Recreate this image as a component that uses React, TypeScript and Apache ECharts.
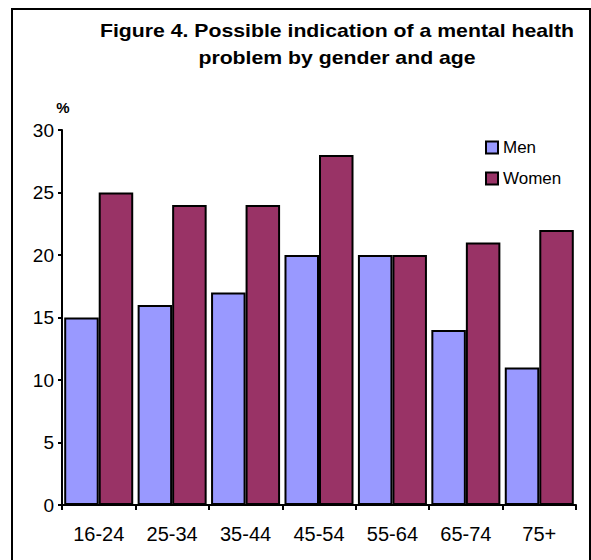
import React, { useEffect, useRef } from "react";
import * as echarts from "echarts";

const categories = ["16-24", "25-34", "35-44", "45-54", "55-64", "65-74", "75+"];
const menValues = [15, 16, 17, 20, 20, 14, 11];
const womenValues = [25, 24, 24, 28, 20, 21, 22];
const titleLines = ["Figure 4. Possible indication of a mental health", "problem by gender and age"];

const FONT = "'Liberation Sans', Arial, Helvetica, sans-serif";

export default function App() {
  const ref = useRef<HTMLDivElement>(null);
  useEffect(() => {
    if (!ref.current) return;
    const chart = echarts.init(ref.current, null, { renderer: "svg" });
    const titleStyle = {
      fontFamily: FONT,
      fontSize: 18,
      fontWeight: "bold",
      fill: "#000",
      textAlign: "center",
      textVerticalAlign: "middle",
    };
    chart.setOption({
      animation: false,
      backgroundColor: "#ffffff",
      textStyle: { fontFamily: FONT },
      grid: { left: 62, right: 15, top: 130, bottom: 55, containLabel: false },
      graphic: [
        {
          type: "rect",
          shape: { x: 12, y: 9, width: 578, height: 600 },
          style: { fill: "none", stroke: "#000", lineWidth: 2 },
          silent: true,
        },
        {
          type: "text",
          x: 337,
          y: 31,
          scaleX: 1.18,
          style: { ...titleStyle, text: titleLines[0] },
        },
        {
          type: "text",
          x: 337,
          y: 58,
          scaleX: 1.18,
          style: { ...titleStyle, text: titleLines[1] },
        },
        {
          type: "text",
          x: 63,
          y: 107,
          style: {
            text: "%",
            fontFamily: FONT,
            fontSize: 15,
            fontWeight: "bold",
            fill: "#000",
            textAlign: "center",
            textVerticalAlign: "middle",
          },
        },
      ],
      legend: {
        orient: "vertical",
        left: 480,
        top: 134,
        itemWidth: 12,
        itemHeight: 12,
        itemGap: 14,
        icon: "rect",
        textStyle: { fontFamily: FONT, fontSize: 17, color: "#000", lineHeight: 16 },
        data: ["Men", "Women"],
      },
      xAxis: {
        type: "category",
        data: categories,
        axisLine: { show: true, lineStyle: { color: "#000", width: 2 } },
        axisTick: { show: true, alignWithLabel: false, length: 5, lineStyle: { color: "#000", width: 2 } },
        axisLabel: { color: "#000", fontSize: 20, fontFamily: FONT, margin: 19, interval: 0 },
        splitLine: { show: false },
      },
      yAxis: {
        type: "value",
        min: 0,
        max: 30,
        interval: 5,
        axisLine: { show: true, lineStyle: { color: "#000", width: 2 } },
        axisTick: { show: true, length: 4, lineStyle: { color: "#000", width: 2 } },
        axisLabel: { color: "#000", fontSize: 19, fontFamily: FONT, margin: 8 },
        splitLine: { show: false },
      },
      series: [
        {
          name: "Men",
          type: "bar",
          data: menValues,
          barGap: "0%",
          barCategoryGap: "6%",
          itemStyle: { color: "#9999FF", borderColor: "#000", borderWidth: 2 },
        },
        {
          name: "Women",
          type: "bar",
          data: womenValues,
          barGap: "0%",
          barCategoryGap: "6%",
          itemStyle: { color: "#993366", borderColor: "#000", borderWidth: 2 },
        },
      ],
    });
    return () => chart.dispose();
  }, []);
  return (
    <div
      ref={ref}
      style={{ position: "absolute", left: 0, top: 0, width: 591, height: 560 }}
    />
  );
}
